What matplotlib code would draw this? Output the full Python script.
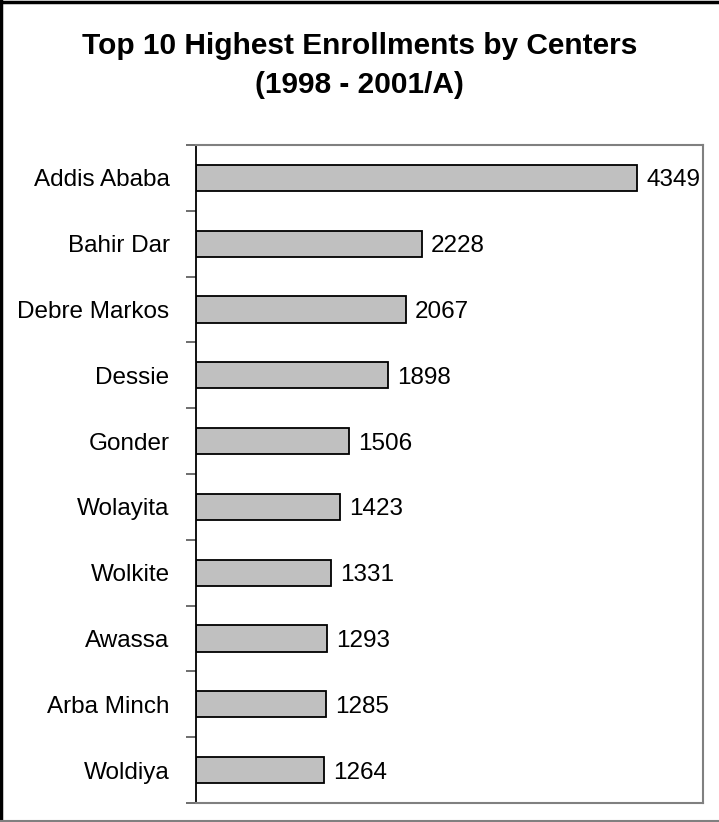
import matplotlib.pyplot as plt
from matplotlib.lines import Line2D
import numpy as np

# Enrollment data
centers = ["Addis Ababa", "Bahir Dar", "Debre Markos", "Dessie", "Gonder",
           "Wolayita", "Wolkite", "Awassa", "Arba Minch", "Woldiya"]
enrollments = [4349, 2228, 2067, 1898, 1506, 1423, 1331, 1293, 1285, 1264]

plt.rcParams['font.family'] = ['Liberation Sans', 'DejaVu Sans']

fig = plt.figure(figsize=(7.19, 8.22), dpi=100)
ax = fig.add_axes([196 / 719, 1 - 803 / 822, 507 / 719, 658 / 822])

y = np.arange(len(centers))
ax.barh(y, enrollments, height=0.4, color='#C0C0C0', edgecolor='black', linewidth=1.3)

ax.set_xlim(0, 5000)
ax.set_ylim(len(centers) - 0.5, -0.5)

# category labels at bar centres, tick marks at category boundaries
ax.set_yticks(y)
ax.set_yticklabels(centers, fontsize=17.5)
ax.tick_params(axis='y', which='major', length=0, pad=19)
ax.set_yticks(np.arange(-0.5, len(centers)), minor=True)
ax.tick_params(axis='y', which='minor', length=7, width=1.2, color='#555555')
ax.set_xticks([])

for spine in ['top', 'right', 'bottom']:
    ax.spines[spine].set_color('#808080')
    ax.spines[spine].set_linewidth(1.5)
ax.spines['left'].set_color('black')
ax.spines['left'].set_linewidth(1.3)

# value labels
for yi, v in zip(y, enrollments):
    ax.text(v + 90, yi, str(v), va='center_baseline', ha='left', fontsize=17.5)

fig.text(0.5, 1 - 46 / 822, 'Top 10 Highest Enrollments by Centers',
         ha='center', va='center', fontsize=21.5, fontweight='bold')
fig.text(0.5, 1 - 85 / 822, '(1998 - 2001/A)',
         ha='center', va='center', fontsize=21.5, fontweight='bold')

# outer chart border
fig.add_artist(Line2D([0.002, 0.002], [0, 1], color='black', linewidth=2.5, transform=fig.transFigure))
fig.add_artist(Line2D([0, 1], [0.998, 0.998], color='black', linewidth=2.5, transform=fig.transFigure))
fig.add_artist(Line2D([0, 1], [0.0015, 0.0015], color='#808080', linewidth=1.5, transform=fig.transFigure))

fig.savefig('out.png', dpi=100)
